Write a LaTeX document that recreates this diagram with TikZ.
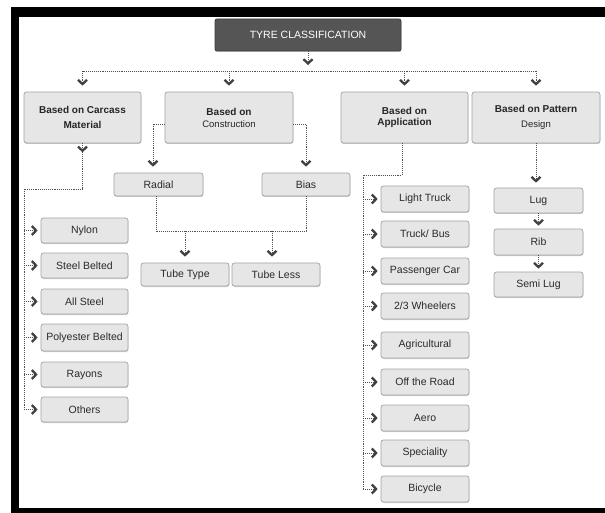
\documentclass[tikz,border=0pt]{standalone}
\usepackage{fontspec}
\setmainfont{Liberation Sans}
\usetikzlibrary{arrows.meta,shadows,calc}
\definecolor{boxfill}{HTML}{E6E6E6}
\definecolor{boxline}{HTML}{A4A4A4}
\definecolor{titlefill}{HTML}{555555}
\definecolor{titleline}{HTML}{3C3C3C}
\definecolor{conncol}{HTML}{505050}
\definecolor{tipcol}{HTML}{404040}
\definecolor{textcol}{HTML}{2A2A2A}
\begin{document}
\begin{tikzpicture}[x=1pt,y=-1pt,
  box/.style={draw=boxline, fill=boxfill, rounded corners=2.5pt, line width=0.7pt,
    inner sep=0pt, text=textcol, align=center,
    drop shadow={shadow xshift=0.3pt,shadow yshift=-1pt,fill=black,opacity=0.2}},
  leaf/.style={box, minimum width=87pt, minimum height=25pt, font=\fontsize{10.5}{12}\selectfont},
  head/.style={box, minimum height=51pt, text=black!85, font=\fontsize{10}{12}\selectfont\bfseries},
  titlebox/.style={draw=titleline, fill=titlefill, rounded corners=2pt, line width=0.7pt,
    minimum width=186pt, minimum height=32pt, text=white, font=\fontsize{10.5}{12}\selectfont,
    drop shadow={shadow xshift=0.3pt,shadow yshift=-1pt,fill=black,opacity=0.2}},
  dline/.style={draw=conncol, line width=0.85pt, dash pattern=on 1pt off 0.9pt},
  tip/.style={-{Straight Barb[length=4.2pt,width=9pt,line width=2.3pt,color=tipcol]}},
  arr/.style={dline, tip, shorten >=3pt},
  frame/.style={fill=black, draw=none}
]
\useasboundingbox (0,0) rectangle (605,513);
\fill[white] (0,0) rectangle (605,513);

% title
\node[titlebox] (title) at (308,35) {TYRE CLASSIFICATION};

% level 2
\node[head, minimum width=117pt] (carcass) at (82.5,117.5) {Based on Carcass\\[3pt]Material};
\node[head, minimum width=128pt] (constr) at (229,117.5) {Based on\\[0pt]{\mdseries\fontsize{9.5}{11}\selectfont Construction}};
\node[head, minimum width=127pt] (appl) at (404.5,117.5) {Based on\\[-1pt]Application};
\node[head, minimum width=128pt] (pattern) at (536,117.5) {Based on Pattern\\[3pt]{\mdseries\fontsize{9.5}{11}\selectfont Design}};

% construction
\node[leaf, minimum width=89pt, minimum height=23pt] (radial) at (158.5,184.5) {Radial};
\node[leaf, minimum width=88pt, minimum height=23pt] (bias) at (306,184.5) {Bias};
\node[leaf, minimum width=88pt, minimum height=23pt] (tubetype) at (185,274.5) {Tube Type};
\node[leaf, minimum width=88pt, minimum height=23pt] (tubeless) at (276,274.5) {Tube Less};

% carcass leaves
\node[leaf] (nylon) at (84.5,230.5) {Nylon};
\node[leaf] (steelb) at (84.5,265.5) {Steel Belted};
\node[leaf] (allsteel) at (84.5,301.5) {All Steel};
\node[leaf, minimum height=27pt] (polyb) at (84.5,337.5) {Polyester Belted};
\node[leaf] (rayons) at (84.5,374.5) {Rayons};
\node[leaf] (others) at (84.5,409.5) {Others};

% application leaves
\node[leaf, minimum width=88pt, minimum height=26pt] (ltruck) at (425,199) {Light Truck};
\node[leaf, minimum width=88pt, minimum height=26pt] (truckbus) at (425,234) {Truck/ Bus};
\node[leaf, minimum width=88pt, minimum height=26pt] (pcar) at (425,271) {Passenger Car};
\node[leaf, minimum width=88pt, minimum height=26pt] (wheelers) at (425,306) {2/3 Wheelers};
\node[leaf, minimum width=88pt, minimum height=26pt] (agri) at (425,345) {Agricultural};
\node[leaf, minimum width=88pt, minimum height=26pt] (otr) at (425,382) {Off the Road};
\node[leaf, minimum width=88pt, minimum height=26pt] (aero) at (425,418) {Aero};
\node[leaf, minimum width=88pt, minimum height=26pt] (spec) at (425,453) {Speciality};
\node[leaf, minimum width=88pt, minimum height=26pt] (bicycle) at (425,489) {Bicycle};

% pattern leaves
\node[leaf, minimum width=89pt] (lug) at (538.5,200.5) {Lug};
\node[leaf, minimum width=89pt, minimum height=26pt] (rib) at (538.5,242) {Rib};
\node[leaf, minimum width=89pt] (semilug) at (538.5,284.5) {Semi Lug};

% ---- connectors ----
\coordinate (busy) at (0,71);
\draw[arr, shorten >=6pt] (title.south) -- (title.south |- busy);
\draw[dline] (carcass.north |- busy) -- (pattern.north |- busy);
\foreach \n in {carcass,constr,appl,pattern}
  \draw[arr, shorten >=6pt] (\n.north |- busy) -- (\n.north);

% carcass
\coordinate (ck) at (24,189);
\draw[dline, tip] (carcass.south) -- ($(carcass.south)+(0,9)$);
\draw[dline] ($(carcass.south)+(0,9)$) |- (ck) -- ($(ck |- others)+(0,-1)$);
\foreach \n in {nylon,steelb,allsteel,polyb,rayons,others}
  \draw[arr] (ck |- \n) -- (\n.west);

% construction
\draw[arr, shorten >=6pt] ($(constr.west)+(0,6.5)$) -| ([xshift=-5.5pt]radial.north);
\draw[arr, shorten >=6pt] ($(constr.east)+(0,6.5)$) -| (bias.north);
\coordinate (tb) at (0,231);
\draw[dline] ([xshift=-2.5pt]radial.south) |- (bias.south |- tb) -- (bias.south);
\draw[arr, shorten >=6pt] (tubetype.north |- tb) -- (tubetype.north);
\draw[arr, shorten >=6pt] ([xshift=-4pt]tubeless.north |- tb) -- ([xshift=-4pt]tubeless.north);

% application
\coordinate (ak) at (363,175);
\draw[dline] ([xshift=-2.5pt]appl.south) |- (ak) -- (ak |- bicycle);
\foreach \n in {ltruck,truckbus,pcar,wheelers,agri,otr,aero,spec,bicycle}
  \draw[arr] (ak |- \n) -- (\n.west);

% pattern
\draw[arr, shorten >=5pt] (pattern.south) -- (pattern.south |- lug.north);
\draw[arr] (lug.south) -- (rib.north);
\draw[arr] (rib.south) -- (semilug.north);

% frame
\fill[frame] (11,7.5) rectangle (605,17);
\fill[frame] (11,7.5) rectangle (19,513);
\fill[frame] (11,508) rectangle (605,513);
\end{tikzpicture}
\end{document}
